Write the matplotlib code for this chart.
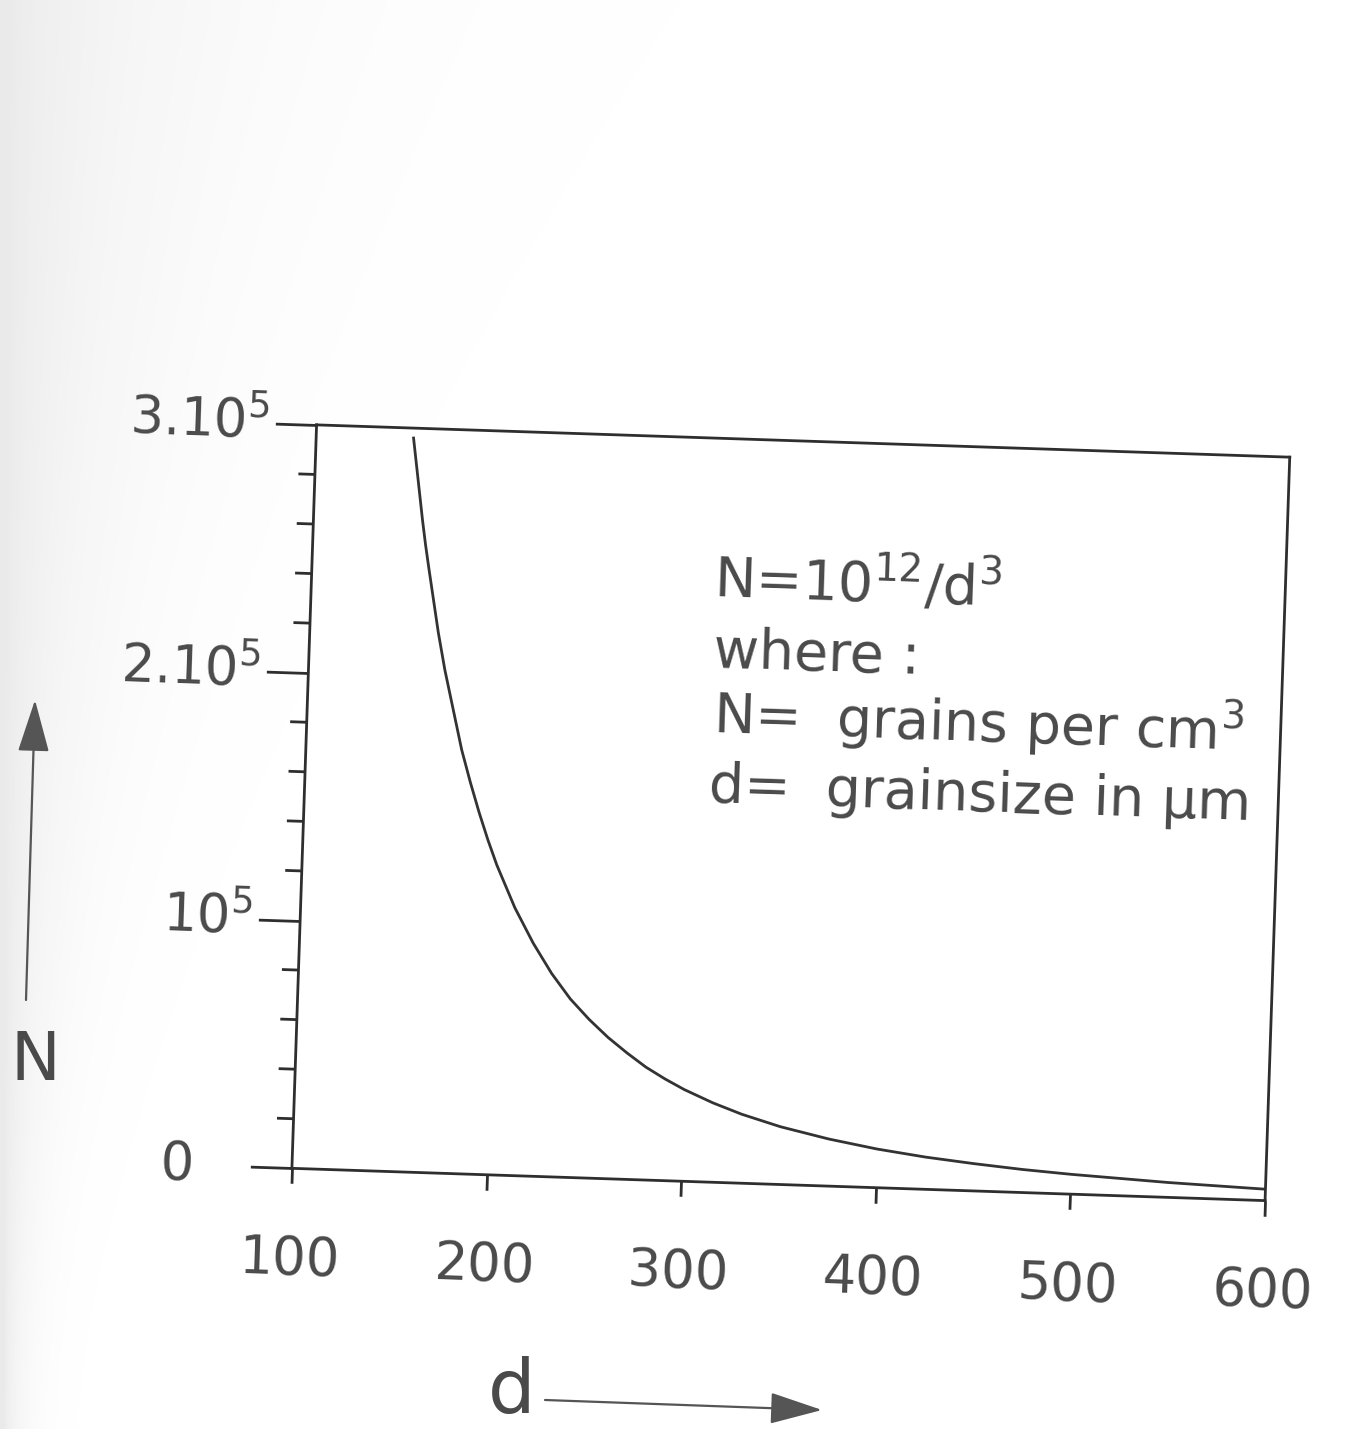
import numpy as np
import matplotlib
matplotlib.use("Agg")
import matplotlib.pyplot as plt
from matplotlib.transforms import Affine2D
import mpl_toolkits.axisartist.floating_axes as floating_axes
from mpl_toolkits.axisartist.grid_finder import FixedLocator, DictFormatter

# grain size d (um) and number of grains per cm3 along the curve
grain_size = [150, 152, 154, 156, 158, 160, 163, 166, 170, 175, 180, 185, 190, 195,
              200, 210, 220, 230, 240, 250, 260, 270, 280, 290, 300, 315, 330, 350,
              375, 400, 425, 450, 475, 500, 550, 600]
grains = [296000, 285000, 274000, 263000, 253000, 244000, 231000, 218000, 203000,
          187000, 171000, 158000, 146000, 135000, 125000, 108000, 94000, 82000,
          72000, 64000, 57000, 51000, 45500, 41000, 37000, 32000, 27800, 23300,
          19000, 15600, 13000, 11000, 9300, 8000, 6000, 4600]

d_ticks = [100, 200, 300, 400, 500, 600]
d_labels = ["100", "200", "300", "400", "500", "600"]
n_ticks = [0, 100000, 200000, 300000]
n_labels = ["0   ", "10$^5$", "2.10$^5$", "3.10$^5$"]
n_minor = [20000, 40000, 60000, 80000, 120000, 140000, 160000, 180000,
           220000, 240000, 260000, 280000]

ink = "#2e2e2e"
grey = "#4a4a4a"
tilt = -1.9  # the whole plot sits slightly turned on the page

plt.rcParams["font.family"] = "DejaVu Sans"
plt.rcParams["mathtext.default"] = "regular"

fig = plt.figure(figsize=(13.56, 14.29), dpi=100)

# scanner shading along the left margin, widest near the top
yy, xx = np.mgrid[0:1:200j, 0:1:200j]
shade = 0.16 * np.exp(-xx / (0.015 + 0.12 * (1 - yy) ** 1.5))
bg = fig.add_axes([0, 0, 1, 1], zorder=-1)
bg.imshow(shade, cmap="Greys", vmin=0, vmax=1, aspect="auto",
          extent=(0, 1, 0, 1), interpolation="bilinear")
bg.set_axis_off()

# rotated frame: d along the bottom, N up the side
tr = Affine2D().scale(1.309 / 500, 1.0 / 300000).rotate_deg(tilt)
helper = floating_axes.GridHelperCurveLinear(
    tr, extremes=(100, 600, 0, 300000),
    grid_locator1=FixedLocator(d_ticks),
    tick_formatter1=DictFormatter(dict(zip(d_ticks, d_labels))),
    grid_locator2=FixedLocator(n_ticks),
    tick_formatter2=DictFormatter(dict(zip(n_ticks, n_labels))))
ax = fig.add_axes([0.2076, 0.1544, 0.7512, 0.5537],
                  axes_class=floating_axes.FloatingAxes, grid_helper=helper)
aux = ax.get_aux_axes(tr)
aux.patch = ax.patch

for side in ["left", "right", "top", "bottom"]:
    ax.axis[side].line.set_color(ink)
    ax.axis[side].line.set_linewidth(2)
for side in ["top", "right"]:
    ax.axis[side].toggle(ticks=False, ticklabels=False)

ax.axis["bottom"].major_ticks.set_tick_out(True)
ax.axis["bottom"].major_ticks.set_ticksize(11)
ax.axis["bottom"].major_ticklabels.set_pad(37)
ax.axis["left"].major_ticks.set_tick_out(True)
ax.axis["left"].major_ticks.set_ticksize(30)
ax.axis["left"].major_ticklabels.set_pad(4)
for side in ["left", "bottom"]:
    ax.axis[side].major_ticks.set_color(ink)
    ax.axis[side].major_ticks.set_markeredgewidth(2)
    ax.axis[side].major_ticklabels.set_fontsize(38)
    ax.axis[side].major_ticklabels.set_color(grey)

# short minor ticks on the N axis
for n in n_minor:
    aux.plot([91.5, 100], [n, n], color=ink, lw=2, clip_on=False,
             solid_capstyle="butt")

aux.plot(grain_size, grains, color="#333333", lw=2)

# formula box
txt = dict(fontsize=40, color=grey, ha="left", va="baseline",
           rotation=tilt, rotation_mode="anchor")
fig.text(0.5258, 0.5822, "N=10$^{12}$/d$^3$", **txt)
fig.text(0.5258, 0.5332, "where :", **txt)
fig.text(0.5258, 0.4871, "N=  grains per cm$^3$", **txt)
fig.text(0.5221, 0.4388, "d=  grainsize in µm", **txt)

# axis names with arrows
fig.text(0.0074, 0.2442, "N", fontsize=48, color=grey, ha="left", va="baseline")
fig.text(0.3595, 0.0110, "d", fontsize=54, color=grey, ha="left", va="baseline")
arrow = dict(arrowstyle="-|>,head_length=1.1,head_width=0.33", color="#555555",
             lw=1.6, mutation_scale=30, shrinkA=0, shrinkB=0)
ax.annotate("", xy=(35, 729), xytext=(26, 429), xycoords="figure pixels",
            textcoords="figure pixels", arrowprops=arrow)
ax.annotate("", xy=(822, 19), xytext=(545, 29), xycoords="figure pixels",
            textcoords="figure pixels", arrowprops=arrow)

fig.savefig("out.png", dpi=100, facecolor="white")
